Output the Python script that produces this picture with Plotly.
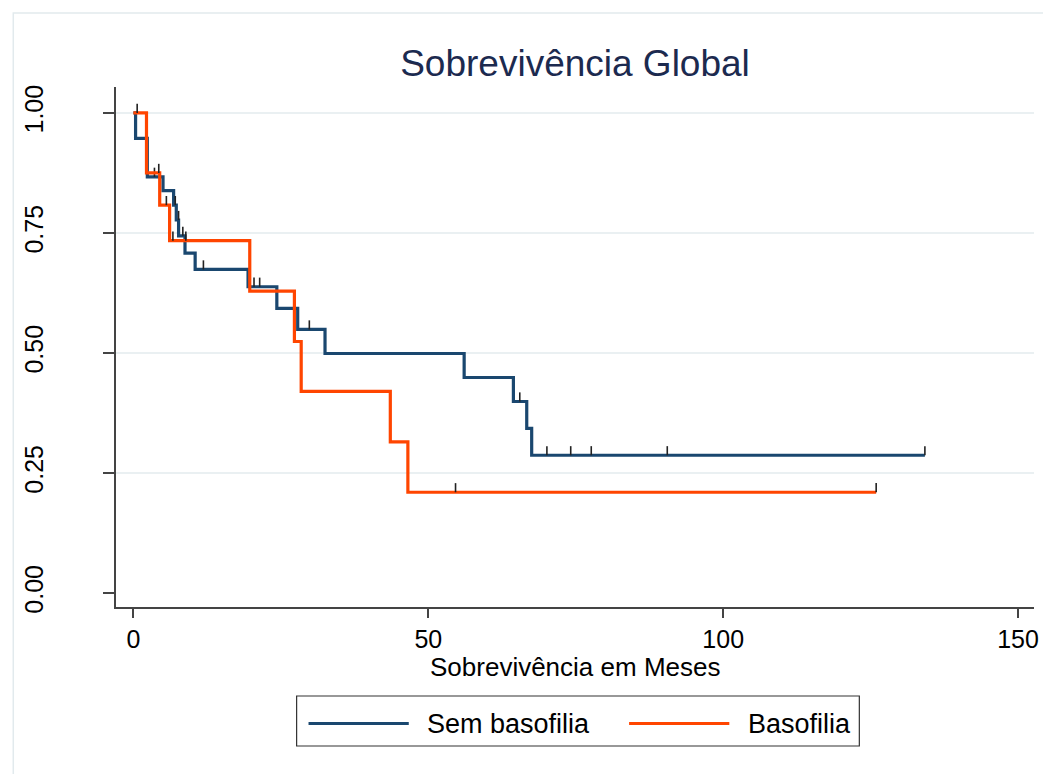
import plotly.graph_objects as go

# ---- data ----
sem_t = [0, 0.37, 2.36, 5.02, 6.82, 7.27, 7.66, 8.75, 10.47, 19.44, 24.32, 27.86,
         32.49, 56.08, 64.43, 66.69, 67.53, 134.2]
sem_s = [1.0, 0.947, 0.867, 0.838, 0.808, 0.777, 0.744, 0.708, 0.674, 0.638, 0.593,
         0.549, 0.499, 0.449, 0.399, 0.343, 0.287, 0.287]

bas_t = [0, 2.22, 4.46, 6.14, 19.73, 27.30, 28.45, 43.56, 46.54, 125.94]
bas_s = [1.0, 0.875, 0.808, 0.734, 0.629, 0.524, 0.420, 0.315, 0.210, 0.210]

sem_cens_t = [2.22, 3.57, 7.10, 7.66, 8.38, 11.87, 20.45, 21.41, 27.30, 29.83,
              65.51, 70.11, 74.15, 77.63, 90.52, 134.2]
sem_cens_s = [0.947, 0.867, 0.808, 0.777, 0.744, 0.674, 0.638, 0.638, 0.593, 0.549,
              0.399, 0.287, 0.287, 0.287, 0.287, 0.287]

bas_cens_t = [0.64, 4.30, 5.59, 6.70, 8.89, 54.62, 125.94]
bas_cens_s = [1.0, 0.875, 0.808, 0.734, 0.734, 0.210, 0.210]

x_ticks = [0, 50, 100, 150]
y_ticks = [0.0, 0.25, 0.50, 0.75, 1.0]
y_ticktext = ["0.00", "0.25", "0.50", "0.75", "1.00"]

names = ["Sem basofilia", "Basofilia"]
title_text = "Sobrevivência Global"
xlabel = "Sobrevivência em Meses"

# ---- style ----
BLUE = "#1a476f"
ORANGE = "#ff4500"
FONT = "Liberation Sans, Arial, sans-serif"
TICKH = 0.019

fig = go.Figure()

def censor_trace(t, s):
    return go.Scatter(
        x=t, y=s, mode="markers", showlegend=False, hoverinfo="skip",
        marker=dict(size=1, color="rgba(0,0,0,0)"),
        error_y=dict(type="constant", value=TICKH, valueminus=0, symmetric=False,
                     width=0, thickness=1.6, color="#222222"),
    )

fig.add_trace(go.Scatter(x=sem_t, y=sem_s, mode="lines", line_shape="hv",
                         line=dict(color=BLUE, width=3.2), name=names[0], showlegend=False))
fig.add_trace(censor_trace(sem_cens_t, sem_cens_s))
fig.add_trace(go.Scatter(x=bas_t, y=bas_s, mode="lines", line_shape="hv",
                         line=dict(color=ORANGE, width=3.2), name=names[1], showlegend=False))
fig.add_trace(censor_trace(bas_cens_t, bas_cens_s))

# page body has an 8px margin; positions below are in window pixels
OFF = 8
W, H = 1051 - OFF, 774 - OFF
L, R, T, B = 112 - OFF, 14, 87 - OFF, 167
pw, ph = W - L - R, H - T - B

def px(x):
    return (x - OFF - L) / pw

def py(y):
    return (T + ph - (y - OFF)) / ph

shapes = []
# horizontal gridlines
for v in y_ticks[1:]:
    shapes.append(dict(type="line", xref="paper", yref="y", x0=0, x1=1, y0=v, y1=v,
                       line=dict(color="#eaf0f2", width=2), layer="below"))
# outer graph region frame (only top/left inside the image)
shapes.append(dict(type="rect", xref="paper", yref="paper",
                   x0=px(8.5), x1=px(1100), y0=py(830), y1=py(13),
                   line=dict(color="#e2eaed", width=1.5), layer="below"))
# legend box
shapes.append(dict(type="rect", xref="paper", yref="paper",
                   x0=px(294), x1=px(861), y0=py(746), y1=py(696),
                   line=dict(color="#333333", width=1.2), fillcolor="white"))
shapes.append(dict(type="line", xref="paper", yref="paper",
                   x0=px(306), x1=px(407), y0=py(723.5), y1=py(723.5),
                   line=dict(color=BLUE, width=3.2)))
shapes.append(dict(type="line", xref="paper", yref="paper",
                   x0=px(629), x1=px(730), y0=py(723.5), y1=py(723.5),
                   line=dict(color=ORANGE, width=3.2)))

annotations = [
    dict(text=names[0], xref="paper", yref="paper", x=px(423), y=py(724),
         xanchor="left", yanchor="middle", showarrow=False,
         font=dict(family=FONT, size=27, color="black")),
    dict(text=names[1], xref="paper", yref="paper", x=px(747), y=py(724),
         xanchor="left", yanchor="middle", showarrow=False,
         font=dict(family=FONT, size=27, color="black")),
    dict(text=xlabel, xref="paper", yref="paper", x=0.5, y=py(667),
         xanchor="center", yanchor="middle", showarrow=False,
         font=dict(family=FONT, size=26, color="black")),
]

fig.update_layout(
    width=W, height=H,
    margin=dict(l=L, r=R, t=T, b=B),
    paper_bgcolor="white", plot_bgcolor="white",
    font=dict(family=FONT, color="black"),
    title=dict(text=title_text, x=0.5, xref="paper", xanchor="center",
               y=1 - (63 - OFF) / H, yref="container", yanchor="middle",
               font=dict(family=FONT, size=37, color="#1c2a4f")),
    shapes=shapes, annotations=annotations, showlegend=False,
)

fig.update_xaxes(range=[-2.95, 152.7], tickvals=x_ticks, ticks="outside", ticklen=9,
                 tickwidth=1.5, tickcolor="#444444", showline=True, linecolor="#444444",
                 linewidth=1.6, showgrid=False, zeroline=False,
                 tickfont=dict(family=FONT, size=25, color="black"))
fig.update_yaxes(range=[-0.029, 1.054], tickvals=y_ticks, ticktext=y_ticktext,
                 ticks="outside", ticklen=11, tickwidth=1.5, tickcolor="#444444",
                 showline=True, linecolor="#444444", linewidth=1.6, showgrid=False,
                 zeroline=False, tickangle=-90, ticklabelstandoff=50,
                 tickfont=dict(family=FONT, size=25, color="black"))

fig.write_html("out.html")
